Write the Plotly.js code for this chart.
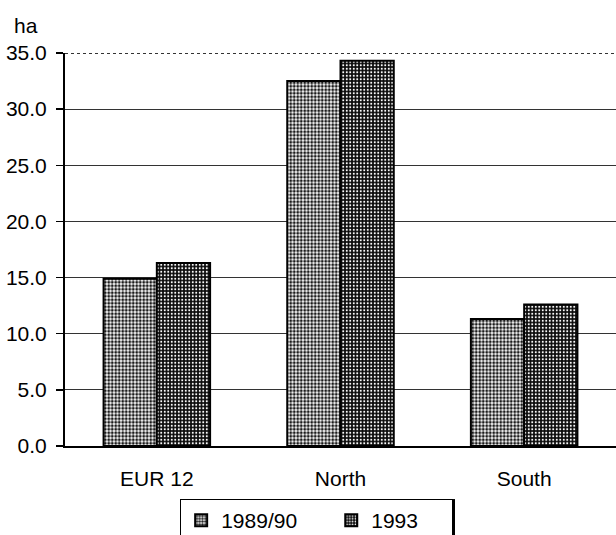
<!DOCTYPE html>
<html>
<head>
<meta charset="utf-8">
<script src="https://cdn.plot.ly/plotly-3.0.1.min.js"></script>
<style>
  html, body { margin: 0; padding: 0; background: #ffffff; }
  #chart { width: 616px; height: 535px; }
</style>
</head>
<body>
<div id="chart"></div>
<script>
// ---- data ----
const categories = ["EUR 12", "North", "South"];
const seriesNames = ["1989/90", "1993"];
const values1989 = [14.9, 32.5, 11.3];
const values1993 = [16.3, 34.3, 12.6];
const yTickVals = [0, 5, 10, 15, 20, 25, 30, 35];
const unitLabel = "ha";

const FONT = "Liberation Sans, Arial, Helvetica, sans-serif";
const NBSP = "\u00a0";

const traces = [
  {
    type: "bar",
    name: seriesNames[0] + NBSP.repeat(5),
    x: categories,
    y: values1989,
    marker: {
      color: "#ffffff",
      line: { color: "#000000", width: 2 },
      pattern: { shape: ".", fgcolor: "#1a1a1a", bgcolor: "#ffffff", size: 3.5, solidity: 0.55, fillmode: "replace" }
    },
    hoverinfo: "x+y"
  },
  {
    type: "bar",
    name: seriesNames[1] + NBSP.repeat(5),
    x: categories,
    y: values1993,
    marker: {
      color: "#000000",
      line: { color: "#000000", width: 2 },
      pattern: { shape: ".", fgcolor: "#ffffff", bgcolor: "#0a0a0a", size: 3.5, solidity: 0.28, fillmode: "replace" }
    },
    hoverinfo: "x+y"
  }
];

const layout = {
  width: 616,
  height: 535,
  margin: { l: 65, r: 0, t: 53, b: 89, autoexpand: false },
  paper_bgcolor: "#ffffff",
  plot_bgcolor: "#ffffff",
  font: { family: FONT, size: 21, color: "#000000" },
  barmode: "group",
  bargap: 0.42,
  bargroupgap: 0,
  showlegend: true,
  legend: {
    orientation: "h",
    x: 0.209, xanchor: "left",
    y: -0.135, yanchor: "top",
    bordercolor: "#000000",
    borderwidth: 1,
    bgcolor: "#ffffff",
    font: { family: FONT, size: 21, color: "#000000" },
    itemwidth: 30,
    traceorder: "normal"
  },
  xaxis: {
    type: "category",
    categoryorder: "array",
    categoryarray: categories,
    showline: true,
    linecolor: "#000000",
    linewidth: 2,
    ticks: "",
    showgrid: false,
    zeroline: false,
    ticklabelstandoff: 13,
    tickfont: { family: FONT, size: 21, color: "#000000" },
    fixedrange: true
  },
  yaxis: {
    range: [0, 35],
    tickvals: yTickVals,
    tickformat: ".1f",
    showline: true,
    linecolor: "#000000",
    linewidth: 2,
    ticks: "outside",
    ticklen: 7,
    tickwidth: 1.5,
    tickcolor: "#000000",
    ticklabelstandoff: 5,
    showgrid: true,
    gridcolor: "#333333",
    gridwidth: 1,
    zeroline: false,
    tickfont: { family: FONT, size: 21, color: "#000000" },
    fixedrange: true
  },
  shapes: [
    { type: "line", xref: "paper", yref: "y", x0: 0, x1: 1, y0: 35, y1: 35, layer: "above",
      line: { color: "#ffffff", width: 2 } },
    { type: "line", xref: "paper", yref: "y", x0: 0, x1: 1, y0: 35, y1: 35, layer: "above",
      line: { color: "#333333", width: 2, dash: "dot" } },
    // heavy right edge of the legend frame
    { type: "rect", xref: "paper", yref: "paper", x0: 0.7005, x1: 0.7078, y0: -0.135, y1: -0.25,
      layer: "above", line: { width: 0 }, fillcolor: "#000000" }
  ],
  annotations: [
    { text: unitLabel, xref: "paper", yref: "paper", x: -0.07, y: 1.07,
      xanchor: "center", yanchor: "middle", showarrow: false,
      font: { family: FONT, size: 21, color: "#000000" } }
  ]
};

Plotly.newPlot("chart", traces, layout, { displayModeBar: false, staticPlot: true });
</script>
</body>
</html>
